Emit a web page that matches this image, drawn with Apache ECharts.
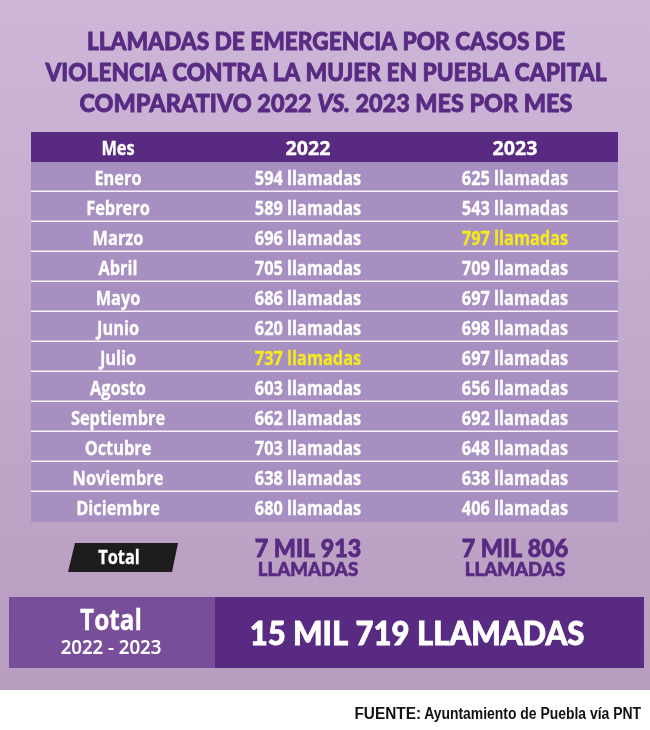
<!DOCTYPE html>
<html><head><meta charset="utf-8">
<style>html,body{margin:0;padding:0;background:#fff}#c{width:650px;height:730px}</style>
<script src="https://cdn.jsdelivr.net/npm/echarts@6/dist/echarts.min.js"></script>
</head><body><div id="c"></div>
<script>
const titleLines = ['LLAMADAS DE EMERGENCIA POR CASOS DE','VIOLENCIA CONTRA LA MUJER EN PUEBLA CAPITAL','COMPARATIVO 2022 {i|VS.} 2023 MES POR MES'];
const headers = ['Mes','2022','2023'];
const months = ['Enero','Febrero','Marzo','Abril','Mayo','Junio','Julio','Agosto','Septiembre','Octubre','Noviembre','Diciembre'];
const calls2022 = [594,589,696,705,686,620,737,603,662,703,638,680];
const calls2023 = [625,543,797,709,697,698,697,656,692,648,638,406];
const unit = 'llamadas';
const totals = ['7 MIL 913','7 MIL 806'];
const grandTotal = '15 MIL 719 LLAMADAS';
const source = 'FUENTE:';
const sourceText = 'Ayuntamiento de Puebla vía PNT';

const PURPLE='#582a82', BAND='#a78fc2', YEL='#f4e81e';
const colX=[87,277,484];
const titleScale=[0.945,0.945,0.975];
const FF='Lato', FB='"Open Sans"', FS='"Liberation Sans"';
const max22=Math.max(...calls2022), max23=Math.max(...calls2023);
const rows=[{h:true,c:headers}].concat(months.map((m,i)=>({c:[m,calls2022[i]+' '+unit,calls2023[i]+' '+unit],a:calls2022[i]===max22,b:calls2023[i]===max23})));

function txt(x,y,t,size,color,weight,font,sx,bold){
  const st={text:t,fill:color,fontSize:size,fontWeight:weight||700,fontFamily:font||FB,align:'center',verticalAlign:'middle'};
  if(bold){st.stroke=color;st.lineWidth=bold;}
  return {type:'text',x:x,y:y,scaleX:sx||1,style:st};
}
function renderRow(p,api){
  const i=api.value(0), o=api.coord([0,i]), s=api.size([0,1]), r=rows[i], w=p.coordSys.width;
  const top=o[1]-s[1]/2, h=s[1], cy=top+h/2;
  const ch=[{type:'rect',shape:{x:o[0],y:top,width:w,height:h},style:{fill:r.h?PURPLE:BAND}}];
  if(!r.h&&i<rows.length-1) ch.push({type:'rect',shape:{x:o[0],y:top+h-1.5,width:w,height:2},style:{fill:'#f6f1f8'}});
  r.c.forEach((t,k)=>{
    const col=(k===1&&r.a)||(k===2&&r.b)?YEL:'#fff';
    const big=r.h&&k>0;
    ch.push(txt(o[0]+colX[k],cy+2.5,t,big?20:19,col,700,FB,big?0.98:0.86,0.3));
  });
  return {type:'group',children:ch};
}
const chart=echarts.init(document.getElementById('c'),null,{renderer:'canvas'});
chart.setOption({
  animation:false,
  grid:{left:31,top:132,width:587,height:390,containLabel:false},
  xAxis:{type:'value',min:0,max:587,show:false},
  yAxis:{type:'category',inverse:true,show:false,data:rows.map((r,i)=>i)},
  graphic:{elements:[
    {type:'rect',z:-10,shape:{x:0,y:0,width:650,height:690},style:{fill:new echarts.graphic.LinearGradient(0,0,0,1,[{offset:0,color:'#cdb6d8'},{offset:1,color:'#b79dbf'}])}},
    ...titleLines.map((t,i)=>({type:'text',x:326,y:42+i*31,scaleX:titleScale[i],style:{
      text:t,fill:PURPLE,stroke:PURPLE,lineWidth:0.8,fontSize:24,fontWeight:900,fontFamily:FF,align:'center',verticalAlign:'middle',
      rich:{i:{fontStyle:'italic',fontSize:24,fontWeight:900,fontFamily:FF,fill:PURPLE,stroke:PURPLE,lineWidth:0.8}}}})),
    {type:'polygon',shape:{points:[[75,543],[178,543],[172,572],[68,572]]},style:{fill:'#1d1d1d'}},
    txt(119,559,'Total',19,'#fff',700,FB,0.86,0.3),
    txt(308,549,totals[0],25,PURPLE,900,FF,0.93,0.8),
    txt(308,570,'LLAMADAS',19,PURPLE,900,FF,0.98,0.6),
    txt(515,549,totals[1],25,PURPLE,900,FF,0.93,0.8),
    txt(515,570,'LLAMADAS',19,PURPLE,900,FF,0.98,0.6),
    {type:'rect',shape:{x:9,y:597,width:206,height:71},style:{fill:'#784e9b'}},
    {type:'rect',shape:{x:215,y:597,width:429,height:71},style:{fill:PURPLE}},
    txt(111,622,'Total',29,'#fff',700,FB,0.84,0.3),
    txt(111,648,'2022 - 2023',20,'#fff',600,FB,0.93,0.2),
    txt(417,635,grandTotal,32,'#fff',900,FF,0.97,0.8),
    {type:'text',x:421,y:715,scaleX:0.96,style:{text:source,align:'right',verticalAlign:'middle',fontFamily:FS,fontWeight:700,fontSize:16,fill:'#111'}},
    {type:'text',x:641,y:715,scaleX:0.87,style:{text:sourceText,align:'right',verticalAlign:'middle',fontFamily:FS,fontWeight:700,fontSize:16,fill:'#111'}}
  ]},
  series:[{type:'custom',coordinateSystem:'cartesian2d',clip:false,silent:true,renderItem:renderRow,
    encode:{x:1,y:0},data:rows.map((r,i)=>[i,0])}]
});
</script></body></html>
